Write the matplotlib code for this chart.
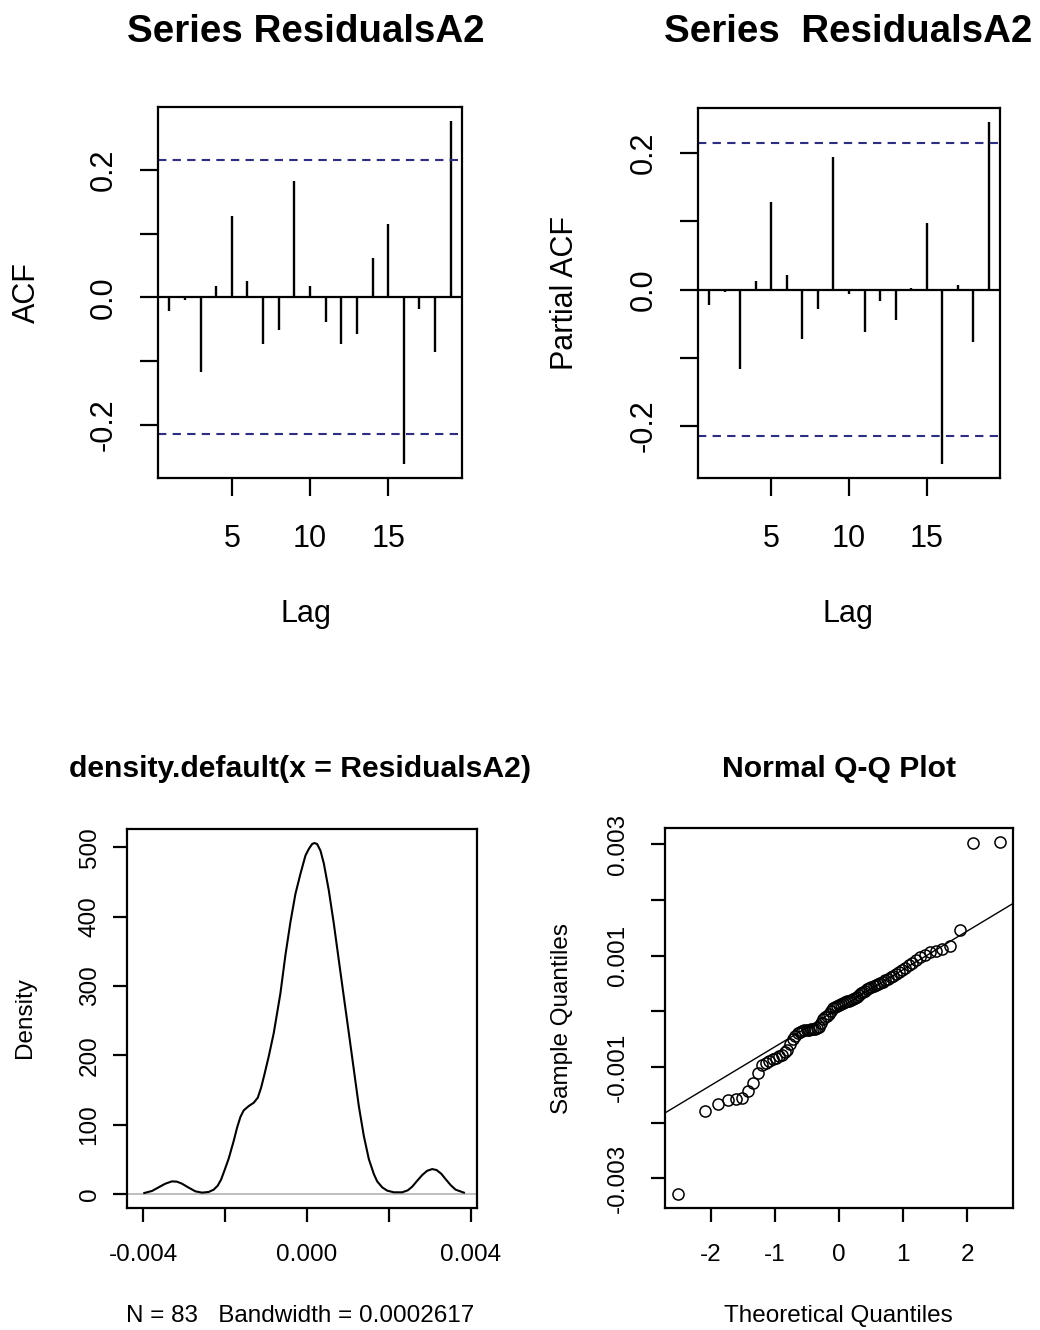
import matplotlib.pyplot as plt
import numpy as np
from statistics import NormalDist

plt.rcParams['font.family'] = ['Liberation Sans', 'DejaVu Sans']

# %%
# Values

lags = list(range(1, 20))
acf_vals = [-0.022, -0.004, -0.117, 0.017, 0.127, 0.026, -0.073, -0.051, 0.183, 0.017,
            -0.039, -0.073, -0.058, 0.061, 0.115, -0.262, -0.019, -0.086, 0.277]
pacf_vals = [-0.022, -0.004, -0.116, 0.012, 0.129, 0.021, -0.072, -0.028, 0.194, -0.007,
             -0.062, -0.016, -0.045, 0.002, 0.097, -0.256, 0.006, -0.077, 0.246]
ci_bound = 0.215

dens_x = [-0.003977, -0.003790, -0.003627, -0.003464, -0.003301, -0.003178, -0.003056,
          -0.002893, -0.002730, -0.002567, -0.002404, -0.002282, -0.002184, -0.002103,
          -0.002021, -0.001915, -0.001793, -0.001711, -0.001630, -0.001549, -0.001426,
          -0.001304, -0.001206, -0.001125, -0.001043, -0.000937, -0.000815, -0.000652,
          -0.000530, -0.000407, -0.000285, -0.000163, -0.000041, 0.000041, 0.000122,
          0.000179, 0.000244, 0.000326, 0.000407, 0.000530, 0.000652, 0.000774, 0.000896,
          0.001019, 0.001141, 0.001263, 0.001385, 0.001508, 0.001630, 0.001711, 0.001834,
          0.001956, 0.002119, 0.002323, 0.002461, 0.002567, 0.002690, 0.002812, 0.002934,
          0.003056, 0.003162, 0.003276, 0.003382, 0.003505, 0.003627, 0.003830]
dens_y = [1.4, 4.3, 9.6, 14.8, 18.2, 17.7, 14.8, 9.1, 3.8, 1.9, 2.9, 6.2, 12.0, 20.6, 33.5,
          51.2, 76.6, 95.7, 111.0, 120.6, 126.8, 131.6, 138.8, 153.1, 172.3, 198.6, 232.1,
          289.5, 344.5, 392.4, 433.0, 461.8, 488.1, 497.6, 504.8, 506.2, 504.8, 495.2,
          477.1, 437.8, 390.0, 337.3, 284.7, 232.1, 179.4, 126.8, 83.7, 50.2, 28.7, 18.2,
          9.6, 4.8, 2.4, 2.4, 5.3, 10.5, 19.1, 27.3, 33.5, 35.9, 34.5, 29.2, 21.5, 12.9,
          6.2, 1.9]
dens_xlim = (-0.0044, 0.00415)
n_obs = 83
bandwidth = '0.0002617'

residuals = [-0.003283, -0.001798, -0.001673, -0.001601, -0.001571, -0.001565, -0.001439,
             -0.001284, -0.001110, -0.000966, -0.000931, -0.000895, -0.000865, -0.000835,
             -0.000811, -0.000787, -0.000739, -0.000691, -0.000583, -0.000500, -0.000440,
             -0.000385, -0.000368, -0.000356, -0.000344, -0.000338, -0.000332, -0.000326,
             -0.000320, -0.000314, -0.000302, -0.000278, -0.000212, -0.000141, -0.000111,
             -0.000081, -0.000051, 0.000009, 0.000063, 0.000081, 0.000093, 0.000105,
             0.000123, 0.000141, 0.000159, 0.000177, 0.000189, 0.000206, 0.000218, 0.000242,
             0.000266, 0.000296, 0.000326, 0.000350, 0.000370, 0.000395, 0.000420, 0.000438,
             0.000460, 0.000480, 0.000500, 0.000515, 0.000533, 0.000555, 0.000580, 0.000610,
             0.000635, 0.000665, 0.000700, 0.000735, 0.000775, 0.000829, 0.000877, 0.000925,
             0.000978, 0.001020, 0.001068, 0.001092, 0.001116, 0.001176, 0.001463, 0.003019,
             0.003043]

# %%
# Layout helpers (pixel positions of the reference)

W, H = 1040, 1330


def box(l, t, r, b):
    return [l / W, 1 - b / H, (r - l) / W, (b - t) / H]


def label(x, y, s, size, rot=0, bold=False):
    fig.text(x / W, 1 - y / H, s, fontsize=size, rotation=rot, ha='center', va='center',
             fontweight='bold' if bold else 'normal')


def r_lim(lo, hi):
    d = (hi - lo) * 0.04
    return lo - d, hi + d


def style(ax, size, length, xpad, ypad):
    for s in ax.spines.values():
        s.set_linewidth(1.6)
    ax.tick_params(direction='out', length=length, width=1.6, labelsize=size)
    ax.tick_params(axis='x', pad=xpad)
    ax.tick_params(axis='y', pad=ypad)
    for t in ax.get_yticklabels():
        t.set_rotation(90)
        t.set_va('center')


fig = plt.figure(figsize=(10.4, 13.3), dpi=100)
ci_col = '#2e2e80'

# %%
# ACF and PACF

for vals, pos, title, tx, ylab, lx in [
        (acf_vals, box(158, 107, 462, 478), 'Series ResidualsA2', 306, 'ACF', 27),
        (pacf_vals, box(698, 108, 1000, 478), 'Series  ResidualsA2', 848, 'Partial ACF', 565)]:
    ax = fig.add_axes(pos)
    ax.vlines(lags, 0, vals, color='black', lw=1.7)
    ax.axhline(0, color='black', lw=1.6)
    for c in (ci_bound, -ci_bound):
        ax.axhline(c, color=ci_col, lw=1.5, ls=(0, (4, 3)))
    ax.set_xlim(*r_lim(min(lags), max(lags)))
    ax.set_ylim(*r_lim(min(min(vals), -ci_bound), max(max(vals), ci_bound)))
    ax.set_xticks([5, 10, 15])
    ax.set_xticklabels(['5', '10', '15'])
    ax.set_yticks([-0.2, -0.1, 0.0, 0.1, 0.2])
    ax.set_yticklabels(['-0.2', '', '0.0', '', '0.2'])
    style(ax, 22, 13, 20, 15)
    label(tx, 32, title, 27.7, bold=True)
    label(tx, 614, 'Lag', 22)
    label(lx, 293, ylab, 22, rot=90)

# %%
# Density

ax3 = fig.add_axes(box(127, 829, 477, 1208))
ax3.axhline(0, color='#bebebe', lw=1.4)
ax3.plot(dens_x, dens_y, color='black', lw=1.5, solid_joinstyle='round')
ax3.set_xlim(*dens_xlim)
ax3.set_ylim(*r_lim(0, max(dens_y)))
ax3.set_xticks([-0.004, -0.002, 0.0, 0.002, 0.004])
ax3.set_xticklabels(['-0.004', '', '0.000', '', '0.004'])
ax3.set_yticks([0, 100, 200, 300, 400, 500])
ax3.set_yticklabels(['0', '100', '200', '300', '400', '500'])
style(ax3, 17.5, 10, 16, 9)
label(300, 769, 'density.default(x = ResidualsA2)', 21.7, bold=True)
label(300, 1316, 'N = %d   Bandwidth = %s' % (n_obs, bandwidth), 17.5)
label(25, 1018, 'Density', 17.5, rot=90)

# %%
# Normal Q-Q

ys = np.sort(residuals)
n = len(ys)
nd = NormalDist()
xs = np.array([nd.inv_cdf((i - 0.5) / n) for i in range(1, n + 1)])
q1, q3 = np.quantile(ys, [0.25, 0.75])
z1, z3 = nd.inv_cdf(0.25), nd.inv_cdf(0.75)
slope = (q3 - q1) / (z3 - z1)
icpt = q1 - slope * z1

ax4 = fig.add_axes(box(665, 828, 1013, 1208))
ax4.plot(xs, ys, 'o', mfc='none', mec='black', ms=8, mew=1.1)
xlim = r_lim(xs.min(), xs.max())
xl = np.array(xlim)
ax4.plot(xl, icpt + slope * xl, color='black', lw=1.0)
ax4.set_xlim(*xlim)
ax4.set_ylim(*r_lim(ys.min(), ys.max()))
ax4.set_xticks([-2, -1, 0, 1, 2])
ax4.set_xticklabels(['-2', '-1', '0', '1', '2'])
ax4.set_yticks([-0.003, -0.002, -0.001, 0.0, 0.001, 0.002, 0.003])
ax4.set_yticklabels(['-0.003', '', '-0.001', '', '0.001', '', '0.003'])
style(ax4, 17.5, 10, 16, 16)
label(839, 769, 'Normal Q-Q Plot', 21.7, bold=True)
label(838, 1316, 'Theoretical Quantiles', 17.5)
label(562, 1018, 'Sample Quantiles', 17.5, rot=90)

plt.savefig('out.png', dpi=100)
